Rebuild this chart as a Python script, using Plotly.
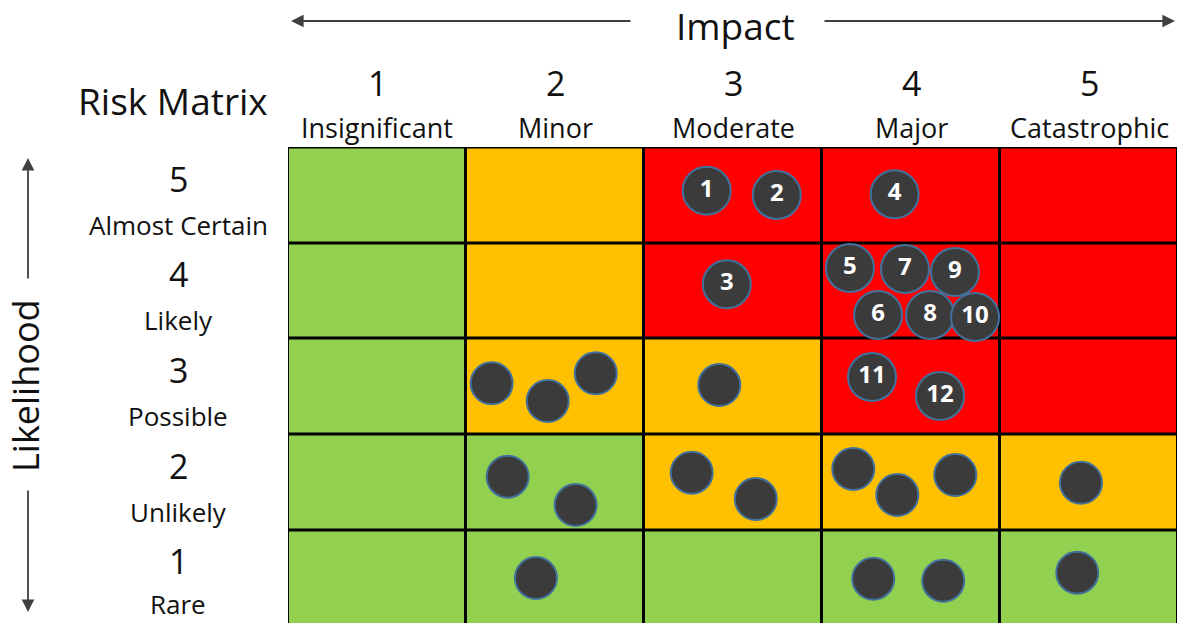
import plotly.graph_objects as go

# ---- data ----
impact_levels = [1, 2, 3, 4, 5]
impact_names = ["Insignificant", "Minor", "Moderate", "Major", "Catastrophic"]
likelihood_levels = [1, 2, 3, 4, 5]
likelihood_names = ["Rare", "Unlikely", "Possible", "Likely", "Almost Certain"]

# rating per cell (rows = likelihood 1..5, cols = impact 1..5): 0 low, 1 medium, 2 high
cell_rating = [
    [0, 0, 0, 0, 0],
    [0, 0, 1, 1, 1],
    [0, 1, 1, 2, 2],
    [0, 1, 2, 2, 2],
    [0, 1, 2, 2, 2],
]
rating_colors = ["#92D050", "#FFC000", "#FF0000"]

# numbered risks (impact, likelihood positions within their cell)
risk_ids = ["1", "2", "3", "4", "5", "6", "7", "8", "9", "10", "11", "12"]
risk_impact = [2.852, 3.246, 2.965, 3.908, 3.657, 3.815, 3.966, 4.107, 4.247, 4.360, 3.781, 4.163]
risk_likelihood = [5.049, 5.004, 4.071, 5.011, 4.241, 3.750, 4.230, 3.750, 4.199, 3.729, 3.102, 2.903]

# un-numbered risks
other_impact = [1.644, 1.959, 2.229, 2.923, 1.734, 2.116, 2.768, 3.128, 3.676, 3.923, 4.249, 4.955,
                1.893, 3.788, 4.181, 4.934]
other_likelihood = [3.036, 2.851, 3.141, 3.018, 2.060, 1.764, 2.102, 1.827, 2.141, 1.869, 2.078, 1.997,
                    1.002, 0.994, 0.973, 1.057]

# ---- layout geometry ----
W, H = 1177, 623
L, T = 288, 147
PW, PH = W - L, H - T
XU, YU = 178.0, 95.7  # px per unit
xr = [0.5, 0.5 + PW / XU]
yr = [5.5 + 0.5 / YU - PH / YU, 5.5 + 0.5 / YU]

def px2paper_x(px):
    return (px - L) / PW

def py2paper_y(py):
    return (H - py) / PH

FONT = "Open Sans"
TXT = "#111111"

fig = go.Figure()

# cells
n = len(rating_colors)
cs = []
for i, c in enumerate(rating_colors):
    cs.append([i / n, c])
    cs.append([(i + 1) / n, c])
fig.add_trace(go.Heatmap(
    x=impact_levels, y=likelihood_levels, z=cell_rating,
    zmin=-0.5, zmax=n - 0.5, colorscale=cs, showscale=False,
    xgap=3, ygap=3, hoverinfo="skip",
))

marker_line = dict(color="#41719C", width=2)
fig.add_trace(go.Scatter(
    x=other_impact, y=other_likelihood, mode="markers",
    marker=dict(size=42, color="#3B3B3B", line=marker_line),
    hoverinfo="skip", showlegend=False,
))
fig.add_trace(go.Scatter(
    x=risk_impact, y=risk_likelihood, mode="markers+text",
    text=risk_ids, textposition="middle center",
    textfont=dict(family=FONT, size=24, color="white", weight="bold"),
    marker=dict(size=48, color="#3B3B3B", line=marker_line),
    hoverinfo="skip", showlegend=False,
))

ann = []
# column headers
for lvl, name in zip(impact_levels, impact_names):
    ann.append(dict(x=lvl, xref="x", y=py2paper_y(83), yref="paper", text=str(lvl),
                    showarrow=False, font=dict(family=FONT, size=34, color=TXT),
                    xanchor="center", yanchor="middle"))
    ann.append(dict(x=lvl, xref="x", y=py2paper_y(128), yref="paper", text=name,
                    showarrow=False, font=dict(family=FONT, size=27, color=TXT),
                    xanchor="center", yanchor="middle"))
# row headers
for lvl, name in zip(likelihood_levels, likelihood_names):
    ann.append(dict(x=px2paper_x(178), xref="paper", y=lvl + 0.5 - 31 / YU, yref="y", text=str(lvl),
                    showarrow=False, font=dict(family=FONT, size=34, color=TXT),
                    xanchor="center", yanchor="middle"))
    name_y = lvl + 0.5 - 77 / YU
    if name_y - 18 / YU < yr[0]:
        # keep the lowest label fully inside the picture
        ann.append(dict(x=px2paper_x(178), xref="paper", y=0, yref="paper", text=name,
                        showarrow=False, font=dict(family=FONT, size=26, color=TXT),
                        xanchor="center", yanchor="bottom", borderpad=0))
    else:
        ann.append(dict(x=px2paper_x(178), xref="paper", y=name_y, yref="y", text=name,
                        showarrow=False, font=dict(family=FONT, size=26, color=TXT),
                        xanchor="center", yanchor="middle"))

ann.append(dict(x=px2paper_x(173), xref="paper", y=py2paper_y(101), yref="paper", text="Risk Matrix",
                showarrow=False, font=dict(family=FONT, size=37, color=TXT),
                xanchor="center", yanchor="middle"))
ann.append(dict(x=px2paper_x(735), xref="paper", y=py2paper_y(25), yref="paper", text="Impact",
                showarrow=False, font=dict(family=FONT, size=37, color=TXT),
                xanchor="center", yanchor="middle"))
ann.append(dict(x=px2paper_x(25), xref="paper", y=py2paper_y(386), yref="paper", text="Likelihood",
                showarrow=False, textangle=-90, font=dict(family=FONT, size=36, color=TXT),
                xanchor="center", yanchor="middle"))

ARROW = "#404040"
def arrow(tip, tail):
    return dict(x=px2paper_x(tip[0]), y=py2paper_y(tip[1]), xref="paper", yref="paper",
                ax=tail[0] - tip[0], ay=tail[1] - tip[1], axref="pixel", ayref="pixel",
                showarrow=True, arrowhead=2, arrowsize=1.4, arrowwidth=1.8, arrowcolor=ARROW, text="")

ann.append(arrow((291, 21), (632, 21)))
ann.append(arrow((1175, 21), (823, 21)))
ann.append(arrow((28, 158), (28, 280)))
ann.append(arrow((28, 612), (28, 489)))

fig.update_layout(
    width=W, height=H,
    margin=dict(l=L, r=0, t=T, b=0, pad=0),
    paper_bgcolor="white", plot_bgcolor="black",
    xaxis=dict(range=xr, visible=False, fixedrange=True),
    yaxis=dict(range=yr, visible=False, fixedrange=True),
    annotations=ann, showlegend=False,
)
fig.write_html("out.html", config={"displayModeBar": False})
